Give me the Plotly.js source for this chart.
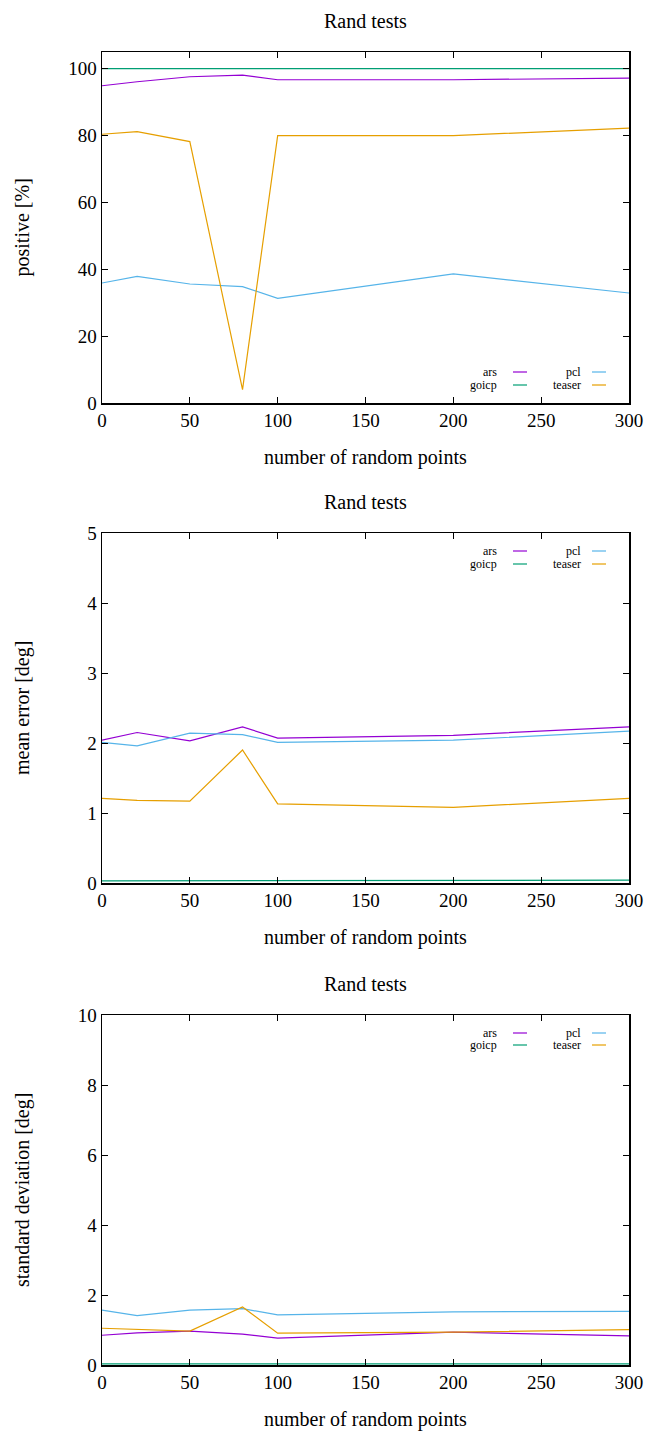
<!DOCTYPE html>
<html>
<head>
<meta charset="utf-8">
<script src="https://cdn.plot.ly/plotly-3.0.1.min.js"></script>
<style>
html,body{margin:0;padding:0;background:#fff;}
#chart{width:649px;height:1431px;}
</style>
</head>
<body>
<div id="chart"></div>
<script>
// ---- data ----
const xPoints = [0, 20, 50, 80, 100, 200, 300];
const seriesNames = ["ars", "goicp", "pcl", "teaser"];
const seriesColors = ["#9400d3", "#009e73", "#56b4e9", "#e69f00"];

const positiveArs    = [94.9, 96.1, 97.6, 98.1, 96.7, 96.7, 97.2];
const positiveGoicp  = [100, 100, 100, 100, 100, 100, 100];
const positivePcl    = [35.9, 37.9, 35.6, 34.8, 31.3, 38.6, 32.9];
const positiveTeaser = [80.4, 81.2, 78.2, 4.0, 80.0, 80.0, 82.2];

const meanArs    = [2.04, 2.15, 2.03, 2.23, 2.07, 2.11, 2.23];
const meanGoicp  = [0.03, 0.03, 0.04, 0.03, 0.03, 0.03, 0.04];
const meanPcl    = [2.01, 1.96, 2.14, 2.12, 2.01, 2.04, 2.17];
const meanTeaser = [1.21, 1.18, 1.17, 1.90, 1.13, 1.08, 1.21];

const stdArs    = [0.85, 0.92, 0.97, 0.88, 0.77, 0.94, 0.83];
const stdGoicp  = [0.03, 0.03, 0.03, 0.02, 0.03, 0.03, 0.03];
const stdPcl    = [1.57, 1.41, 1.57, 1.61, 1.43, 1.52, 1.53];
const stdTeaser = [1.05, 1.02, 0.97, 1.66, 0.91, 0.94, 1.01];

const xTickVals = [0, 50, 100, 150, 200, 250, 300];
const plotTitles = ["Rand tests", "Rand tests", "Rand tests"];
const xTitle = "number of random points";
const yTitles = ["positive [%]", "mean error [deg]", "standard deviation [deg]"];
const yRanges = [[0, 105], [0, 5], [0, 10]];
const yDtick = [20, 1, 2];

// ---- layout geometry (pixels) ----
const W = 649, H = 1431;
const xLeft = 102, xRight = 629;
const panels = [{top: 52, bottom: 403}, {top: 533, bottom: 883}, {top: 1015, bottom: 1365}];
const FONT = "Liberation Serif, Times New Roman, serif";
const py = v => (H - v) / H;
const px = v => v / W;

const groups = [
  [positiveArs, positiveGoicp, positivePcl, positiveTeaser],
  [meanArs, meanGoicp, meanPcl, meanTeaser],
  [stdArs, stdGoicp, stdPcl, stdTeaser]
];

const traces = [];
groups.forEach((g, p) => {
  g.forEach((ys, s) => {
    traces.push({
      x: xPoints, y: ys, type: "scatter", mode: "lines",
      name: seriesNames[s], showlegend: false,
      line: {color: seriesColors[s], width: 1.2},
      xaxis: p === 0 ? "x" : "x" + (p + 1),
      yaxis: p === 0 ? "y" : "y" + (p + 1),
      hoverinfo: "skip", cliponaxis: true
    });
  });
});

const layout = {
  width: W, height: H,
  margin: {l: 0, r: 0, t: 0, b: 0, pad: 0},
  paper_bgcolor: "#fff", plot_bgcolor: "#fff",
  font: {family: FONT, size: 18, color: "#000"},
  showlegend: false,
  annotations: [], shapes: []
};

panels.forEach((pn, p) => {
  const xa = p === 0 ? "xaxis" : "xaxis" + (p + 1);
  const ya = p === 0 ? "yaxis" : "yaxis" + (p + 1);
  const ys = p === 0 ? "y" : "y" + (p + 1);
  const xs = p === 0 ? "x" : "x" + (p + 1);
  layout[xa] = {
    domain: [px(xLeft), px(xRight)], anchor: ys, range: [0, 300],
    tickmode: "array", tickvals: xTickVals, ticks: "inside", ticklen: 6, tickwidth: 1,
    tickcolor: "#000", showline: true, linecolor: "#000", linewidth: 1.5, mirror: "allticks",
    showgrid: false, zeroline: false, tickfont: {family: FONT, size: 19}, fixedrange: true
  };
  layout[ya] = {
    domain: [py(pn.bottom), py(pn.top)], anchor: xs, range: yRanges[p],
    dtick: yDtick[p], tick0: 0, ticks: "inside", ticklen: 6, tickwidth: 1,
    tickcolor: "#000", showline: true, linecolor: "#000", linewidth: 1.5, mirror: "allticks",
    showgrid: false, zeroline: false, tickfont: {family: FONT, size: 19}, fixedrange: true
  };
  const cx = (xLeft + xRight) / 2;
  layout.annotations.push({
    text: plotTitles[p], xref: "paper", yref: "paper", x: px(cx), y: py(pn.top - 31),
    showarrow: false, xanchor: "center", yanchor: "middle", font: {family: FONT, size: 20}
  });
  layout.annotations.push({
    text: xTitle, xref: "paper", yref: "paper", x: px(cx), y: py(pn.bottom + 54),
    showarrow: false, xanchor: "center", yanchor: "middle", font: {family: FONT, size: 20}
  });
  layout.annotations.push({
    text: yTitles[p], xref: "paper", yref: "paper", x: px(22), y: py((pn.top + pn.bottom) / 2),
    showarrow: false, xanchor: "center", yanchor: "middle", textangle: -90, font: {family: FONT, size: 20}
  });
  // legend, gnuplot-style (text right-aligned, then sample line)
  const rowY = p === 0 ? [372, 385] : p === 1 ? [551, 564] : [1033, 1045];
  const textRight = [499, 583];
  const sampleX = [[513, 527], [592, 606]];
  seriesNames.forEach((nm, s) => {
    const col = Math.floor(s / 2), row = s % 2;
    layout.annotations.push({
      text: nm, xref: "paper", yref: "paper", x: px(textRight[col]), y: py(rowY[row]),
      showarrow: false, xanchor: "right", yanchor: "middle", font: {family: FONT, size: 12}
    });
    layout.shapes.push({
      type: "line", xref: "paper", yref: "paper",
      x0: px(sampleX[col][0]), x1: px(sampleX[col][1]), y0: py(rowY[row]), y1: py(rowY[row]),
      line: {color: seriesColors[s], width: 1.2}
    });
  });
});

Plotly.newPlot("chart", traces, layout, {staticPlot: true, displayModeBar: false});
</script>
</body>
</html>
